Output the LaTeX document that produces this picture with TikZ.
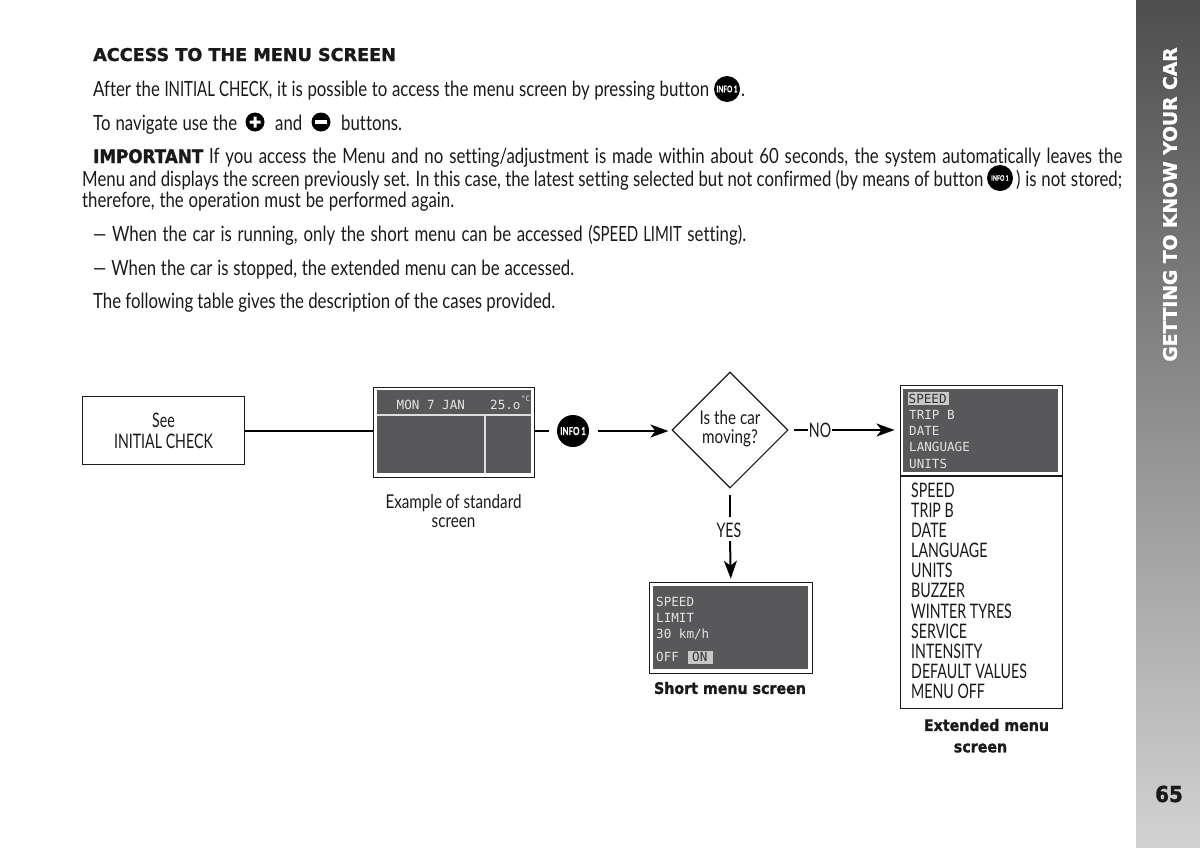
\documentclass[tikz,border=0pt]{standalone}
\usepackage{fontspec}
\setmainfont[FakeStretch=0.8,Ligatures=NoCommon]{Lato}
\newfontfamily\capsfont[FakeStretch=0.71,Ligatures=NoCommon]{Lato}
\newfontfamily\heavybase[BoldFeatures={FakeBold=1.4}]{DejaVu Sans}
\newcommand{\heavyfont}{\heavybase\bfseries}
\newfontfamily\heavynbase[FakeStretch=0.9,BoldFeatures={FakeBold=1.4}]{DejaVu Sans}
\newcommand{\heavynarrow}{\heavynbase\bfseries}
\newfontfamily\lcdfont{DejaVu Sans Mono}
\newfontfamily\iconbase[FakeStretch=0.72,BoldFeatures={FakeBold=0.4}]{Lato}
\newcommand{\iconfont}{\iconbase\bfseries}
\usetikzlibrary{arrows.meta,shapes.geometric}
\definecolor{lcd}{HTML}{58585A}
\definecolor{lcdtext}{HTML}{E4E4E4}
\definecolor{lcdhi}{HTML}{C8C8C8}
\definecolor{barTop}{HTML}{4E4E4E}
\definecolor{barBot}{HTML}{D2D2D2}
\definecolor{ink}{HTML}{1A1A1A}
\tikzset{
  x=1pt,y=-1pt,
  every node/.style={text=ink},
  body/.style={anchor=base west,inner sep=0pt,font=\fontsize{21}{21}\selectfont},
  plain/.style={font=\capsfont\fontsize{20}{21}\selectfont,align=center,inner sep=0pt},
  caption/.style={font=\fontsize{19}{18.5}\selectfont,align=center,inner sep=0pt},
  boldcap/.style={font=\heavynarrow\fontsize{15.8}{23}\selectfont,align=center,inner sep=0pt},
  screenframe/.style={draw=ink,line width=1.1pt,fill=white,minimum width=0pt,inner sep=0pt},
  lcdtxt/.style={font=\lcdfont\fontsize{12.6}{16.2}\selectfont,text=lcdtext,anchor=base west,inner sep=0pt},
  flow/.style={draw=black,line width=2pt},
  flowarrow/.style={flow,-{Stealth[length=18pt,width=13pt,inset=5pt]}},
  infobtn/.style={circle,fill=black,inner sep=0pt,font=\iconfont\fontsize{#1}{#1}\selectfont,text=white},
}
\begin{document}
\begin{tikzpicture}
\useasboundingbox (0,0) rectangle (1200,847);
\fill[white] (0,0) rectangle (1200,847);
% side bar
\shade[top color=barTop,bottom color=barBot] (1136,0) rectangle (1200,847);
\node[rotate=90,font=\heavyfont\fontsize{18.7}{19}\selectfont,text=white,inner sep=0pt] (sidetitle) at (1170,204.5) {GETTING TO KNOW YOUR CAR};
\node[font=\heavynarrow\fontsize{22}{22}\selectfont,inner sep=0pt] (pagenum) at (1169,794) {65};
% heading and text
\node[body,font=\heavyfont\fontsize{17.6}{18}\selectfont] (head) at (93,61) {ACCESS TO THE MENU SCREEN};
\node[body] (l1) at (93,96) {\makebox[616pt][s]{After the {\capsfont INITIAL CHECK}, it is possible to access the menu screen by pressing button}};
\node[infobtn=9,minimum size=26pt] (i1) at (727,89) {INFO\,1};
\node[body] (l1b) at (741,96) {.};
\node[body] (l2) at (93,130) {\makebox[144pt][s]{To navigate use the}};
\node[circle,fill=black,minimum size=19pt,inner sep=0pt] (plus) at (255,122) {};
\fill[white] (249.5,120.5) rectangle (260.5,123.5) (253.5,116.5) rectangle (256.5,127.5);
\node[body] (l2b) at (275,130) {and};
\node[circle,fill=black,minimum size=19pt,inner sep=0pt] (minus) at (321,122) {};
\fill[white] (315,120.3) rectangle (327,123.7);
\node[body] (l2c) at (341,130) {buttons.};
\node[body] (l3) at (93,163) {\makebox[1029pt][s]{{\heavynarrow\fontsize{18.6}{20}\selectfont IMPORTANT} If you access the Menu and no setting/adjustment is made within about 60 seconds, the system automatically leaves the}};
\node[body] (l4) at (82,186) {\makebox[901pt][s]{Menu and displays the screen previously set. In this case, the latest setting selected but not confirmed (by means of button}};
\node[infobtn=7.5,minimum size=26pt] (i2) at (1000,178) {INFO\,1};
\node[body] (l4b) at (1016,186) {\makebox[106pt][s]{) is not stored;}};
\node[body] (l5) at (82,207) {\makebox[372pt][s]{therefore, the operation must be performed again.}};
\node[body] (l6) at (93,241) {\makebox[653pt][s]{— When the car is running, only the short menu can be accessed ({\capsfont SPEED LIMIT} setting).}};
\node[body] (l7) at (93,275) {\makebox[481pt][s]{— When the car is stopped, the extended menu can be accessed.}};
\node[body] (l8) at (93,308) {\makebox[462pt][s]{The following table gives the description of the cases provided.}};
% see box
\node[draw=ink,line width=1pt,minimum width=162pt,minimum height=68pt,plain,anchor=north west] (see) at (82,396) {See\\INITIAL CHECK};
% standard screen
\node[screenframe,minimum width=161.5pt,minimum height=90.5pt,anchor=north west] (std) at (372.5,386.5) {};
\fill[lcd] (376.5,390) rectangle (530.5,473);
\draw[lcdhi!60!white,line width=1.3pt] (376.5,415) -- (530.5,415) (485,415) -- (485,473);
\node[lcdtxt] (stda) at (396.5,409) {MON 7 JAN};
\node[lcdtxt] (stdb) at (490,409) {25.o};
\node[lcdtxt,font=\lcdfont\fontsize{7.5}{8}\selectfont] (stdc) at (521,401) {°C};
\node[caption] (stdcap) at (453.5,511) {Example of standard\\screen};
% info button
\node[infobtn=11,minimum size=32pt] (info) at (573,431) {INFO\,1};
% diamond
\node[diamond,draw=ink,line width=1.1pt,minimum width=116pt,minimum height=116pt,inner sep=0pt] (dec) at (730,430) {};
\node[caption,font=\fontsize{19}{19}\selectfont] (dectext) at (730,429) {Is the car\\moving?};
% extended screen
\node[screenframe,minimum width=162pt,minimum height=323.5pt,anchor=north west] (ext) at (899.5,384.5) {};
\fill[lcd] (903,389) rectangle (1058,472);
\draw[ink,line width=1.1pt] (ext.west |- 0,476) -- (ext.east |- 0,476);
\fill[lcdhi] (908,392) rectangle (948.5,405);
\node[lcdtxt,text=ink!90!white] (e1) at (908.5,403) {SPEED};
\node[lcdtxt] (e2) at (909,419) {TRIP B};
\node[lcdtxt] (e3) at (909,435.5) {DATE};
\node[lcdtxt] (e4) at (909,451.5) {LANGUAGE};
\node[lcdtxt] (e5) at (909,468) {UNITS};
\node[anchor=north west,inner sep=0pt,align=left,font=\capsfont\fontsize{20}{20.15}\selectfont] (extlist) at (911,482.5) {SPEED\\TRIP B\\DATE\\LANGUAGE\\UNITS\\BUZZER\\WINTER TYRES\\SERVICE\\INTENSITY\\DEFAULT VALUES\\MENU OFF};
\node[boldcap] (extcap) at (986.5,725) {Extended menu};
\node[boldcap] (extcapb) at (980.5,748) {screen};
% short screen
\node[screenframe,minimum width=162.5pt,minimum height=91pt,anchor=north west] (short) at (649,581.7) {};
\fill[lcd] (653,586) rectangle (807.5,669);
\node[lcdtxt] (s1) at (656,606) {SPEED};
\node[lcdtxt] (s2) at (656,622) {LIMIT};
\node[lcdtxt] (s3) at (656,638.5) {30 km/h};
\node[lcdtxt] (s4) at (656,661) {OFF};
\fill[lcdhi] (688,651) rectangle (713,664);
\node[lcdtxt,text=ink!90!white] (s5) at (692,661) {ON};
\node[boldcap] (shortcap) at (730,688) {Short menu screen};
% labels
\node[plain,inner sep=0.5pt] (no) at (820,430) {NO};
\node[plain,inner sep=0.5pt] (yes) at (729,530) {YES};
% connectors
\draw[flow] (see.east) -- (std.west |- see.east);
\draw[flow,shorten >=8pt] (std.east |- info.west) -- (info.west);
\draw[flowarrow,shorten <=9pt,shorten >=3pt] (info.east) -- (dec.west |- info.east);
\draw[flow,shorten <=5pt] (dec.east) -- (no.west);
\draw[flowarrow,shorten >=5pt] (no.east) -- (ext.west |- no.east);
\draw[flow,shorten <=6pt,shorten >=5pt] (dec.south) -- (yes.north -| dec.south);
\draw[flowarrow,shorten <=3pt,shorten >=3pt] (yes.south -| dec.south) -- (short.north);
\end{tikzpicture}
\end{document}
